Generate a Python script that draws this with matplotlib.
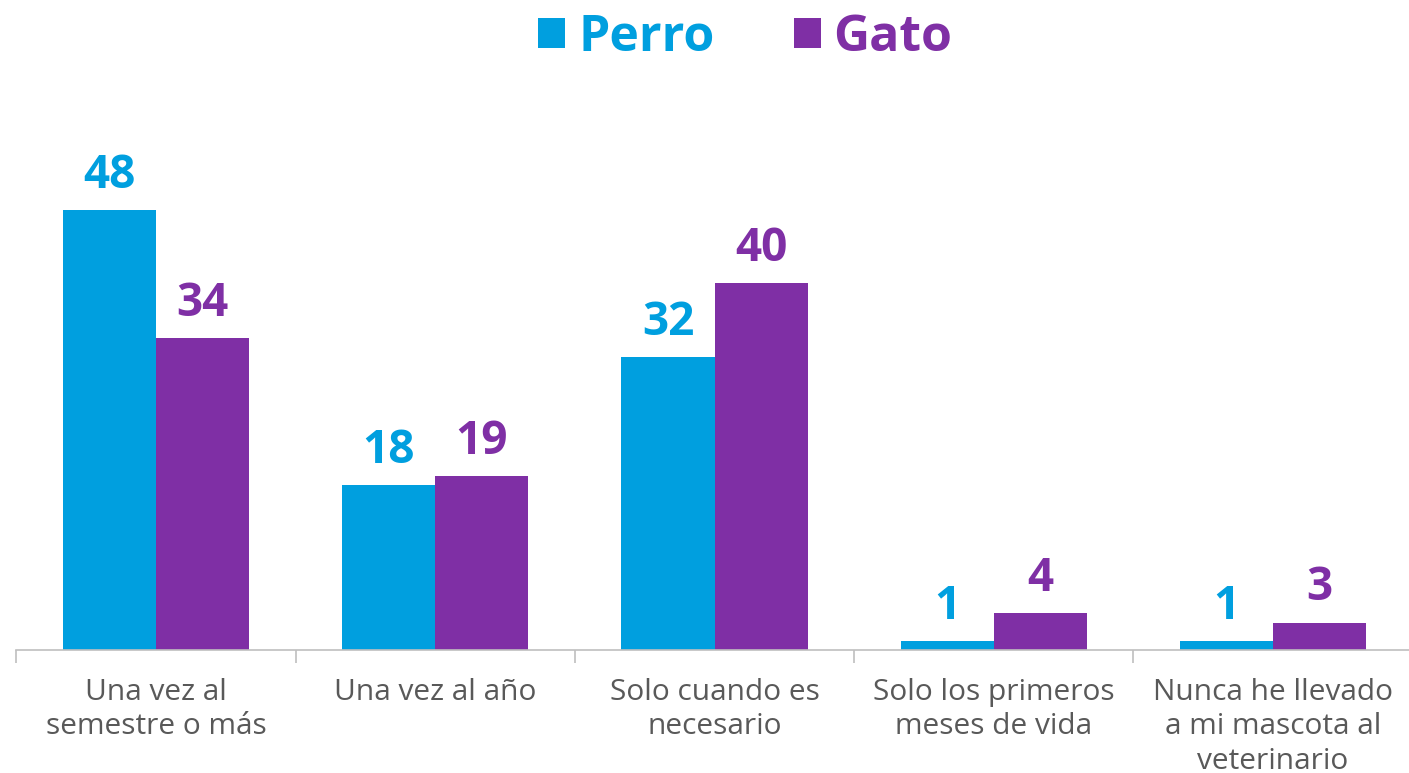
import matplotlib
matplotlib.use("Agg")
import matplotlib.pyplot as plt
import numpy as np

categories = ["Una vez al\nsemestre o más", "Una vez al año", "Solo cuando es\nnecesario",
              "Solo los primeros\nmeses de vida", "Nunca he llevado\na mi mascota al\nveterinario"]
perro = [48, 18, 32, 1, 1]
gato = [34, 19, 40, 4, 3]
series_names = ["Perro", "Gato"]
colors = ["#009FDF", "#7F2FA5"]

plt.rcParams['font.family'] = ['Open Sans', 'DejaVu Sans']

fig = plt.figure(figsize=(14.09, 7.73), dpi=100)
W, H = 1409, 773
left = 16.4
ax = fig.add_axes([left / W, 1 - 650 / H, (5 * 279.25) / W, (650 - 100) / H])

x = np.arange(len(categories))
w = 1 / 3
b1 = ax.bar(x - w / 2, perro, width=w, color=colors[0], label=series_names[0])
b2 = ax.bar(x + w / 2, gato, width=w, color=colors[1], label=series_names[1])

for bars, vals, c in ((b1, perro, colors[0]), (b2, gato, colors[1])):
    for rect, v in zip(bars, vals):
        ax.annotate(f"{v}", (rect.get_x() + rect.get_width() / 2, v), xytext=(0, 8),
                    textcoords="offset points", ha="center", va="bottom",
                    fontsize=33, fontweight="bold", color=c)

ax.set_xlim(-0.5, len(categories) - 0.5)
ax.set_ylim(0, 60)
ax.set_yticks([])
for s in ["top", "right", "left"]:
    ax.spines[s].set_visible(False)
ax.spines["bottom"].set_color("#BFBFBF")
ax.spines["bottom"].set_linewidth(1.2)
ax.spines["bottom"].set_clip_on(False)

ax.set_xticks(np.arange(len(categories) + 1) - 0.5, minor=True)
ax.set_xticks(x)
ax.set_xticklabels(categories, fontsize=21.5, color="#595959", linespacing=1.25)
ax.tick_params(axis="x", which="major", length=0, pad=20)
ax.tick_params(axis="x", which="minor", length=9, color="#BFBFBF", width=1.2)

leg = fig.legend(handles=[b1, b2], labels=series_names, loc="upper center",
                 bbox_to_anchor=(0.529, 1.042), ncol=2, frameon=False,
                 fontsize=36, handlelength=0.54, handleheight=0.54, handletextpad=0.26,
                 columnspacing=1.58)
for t, c in zip(leg.get_texts(), colors):
    t.set_color(c)
    t.set_fontweight("bold")

fig.savefig("out.png", dpi=100)
